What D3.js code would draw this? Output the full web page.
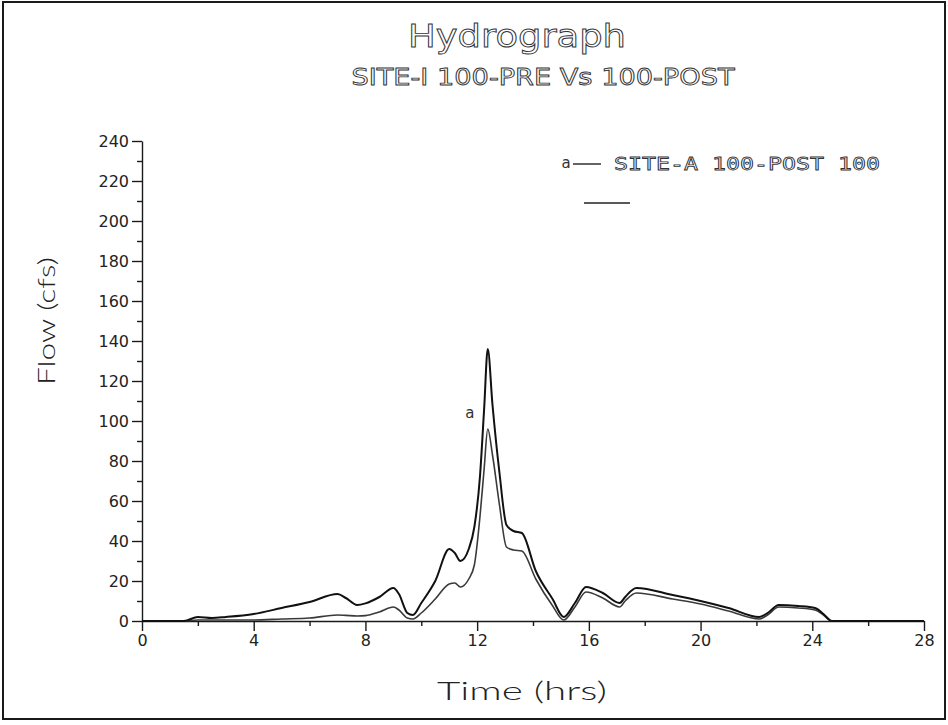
<!DOCTYPE html>
<html>
<head>
<meta charset="utf-8">
<script src="https://cdn.jsdelivr.net/npm/d3@7"></script>
<style>
  html, body { margin: 0; padding: 0; background: #fff; }
  svg { display: block; }
</style>
</head>
<body>
<svg id="chart" width="948" height="725"></svg>
<script>
// ---- data ----
const chartTitle = "Hydrograph";
const chartSubtitle = "SITE-I 100-PRE Vs 100-POST";
const xTitle = "Time (hrs)";
const yTitle = "Flow (cfs)";
const xTicks = [0, 4, 8, 12, 16, 20, 24, 28];
const yTicks = [0, 20, 40, 60, 80, 100, 120, 140, 160, 180, 200, 220, 240];
const seriesNames = ["SITE-A 100-POST 100", ""];

const times = [0, 1.5, 2, 2.5, 3, 4, 5, 6, 7, 7.3, 7.7, 8, 8.5, 9, 9.2, 9.5, 9.7, 10, 10.5, 11,
  11.2, 11.4, 11.7, 11.9, 12.1, 12.25, 12.38, 12.55, 12.8, 13.05, 13.3, 13.6, 14.1, 14.7, 15.1,
  15.5, 15.9, 16.5, 17.1, 17.3, 17.7, 19, 20, 21, 22.1, 22.4, 22.8, 23.5, 24.1, 24.4, 24.7, 28];

const flowUpper = [0, 0, 2, 1.5, 2, 3.5, 6.5, 9.5, 13.5, 11.5, 8, 8.8, 12, 16.5, 13.5, 4, 3, 9, 20, 36,
  34, 30, 36, 47, 72, 106, 136, 108, 74, 48, 45, 44, 25, 11, 2,
  9, 17, 14, 9, 12, 16.5, 13, 10, 6.5, 2, 4, 8, 7.5, 6.5, 3.5, 0, 0];

const flowLower = [0, 0, 0.5, 0.5, 0.5, 0.5, 1, 1.5, 3, 2.8, 2.5, 2.7, 4.5, 7, 5.5, 1.5, 1, 4, 11, 18.5,
  19, 17, 21, 28, 52, 76, 96, 83, 58, 37, 35.5, 35, 21, 7.6, 0.5,
  7, 14.5, 11.5, 7, 10, 14, 11, 8.5, 5, 1, 3, 7, 6.5, 5.5, 3, 0, 0];

const markerPoints = [[11.74, 104]];

// ---- drawing ----
const svg = d3.select("#chart");
const W = 948, H = 725;
const mLeft = 142, mRight = 924, mTop = 141, mBottom = 621;

const x = d3.scaleLinear().domain([0, 28]).range([mLeft, mRight]);
const y = d3.scaleLinear().domain([0, 240]).range([mBottom, mTop]);

const ink = "#1a1a1a";
const tickFont = "'DejaVu Sans', sans-serif";

// frame
svg.append("rect").attr("x", 3).attr("y", 2).attr("width", W - 6).attr("height", H - 8)
  .attr("fill", "none").attr("stroke", ink).attr("stroke-width", 2);

// titles
svg.append("text").attr("x", 517).attr("y", 47).attr("text-anchor", "middle")
  .attr("font-family", "'DejaVu Sans', sans-serif").attr("font-size", 32)
  .attr("textLength", 218).attr("lengthAdjust", "spacingAndGlyphs")
  .attr("fill", "#fff").attr("stroke", "#333").attr("stroke-width", 0.9)
  .text(chartTitle);

svg.append("text").attr("x", 543).attr("y", 85).attr("text-anchor", "middle")
  .attr("font-family", "'DejaVu Sans', sans-serif").attr("font-size", 23)
  .attr("textLength", 383).attr("lengthAdjust", "spacingAndGlyphs")
  .attr("fill", "#fff").attr("stroke", "#333").attr("stroke-width", 0.9)
  .text(chartSubtitle);

// axes
const yAxis = d3.axisLeft(y).tickValues(yTicks).tickSize(10).tickSizeOuter(0).tickPadding(3)
  .tickFormat(d3.format("d"));
const gy = svg.append("g").attr("transform", `translate(${mLeft},0)`).call(yAxis);

const yMinor = d3.axisLeft(y).tickValues(d3.range(10, 240, 20)).tickSize(5).tickSizeOuter(0).tickFormat("");
svg.append("g").attr("transform", `translate(${mLeft},0)`).call(yMinor).select(".domain").remove();

const xAxis = d3.axisBottom(x).tickValues(xTicks).tickSize(10).tickSizeOuter(0).tickPadding(4)
  .tickFormat(d3.format("d"));
const gx = svg.append("g").attr("transform", `translate(0,${mBottom})`).call(xAxis);

const xMinor = d3.axisBottom(x).tickValues(d3.range(2, 28, 4)).tickSize(5).tickSizeOuter(0).tickFormat("");
svg.append("g").attr("transform", `translate(0,${mBottom})`).call(xMinor).select(".domain").remove();

svg.selectAll(".domain, .tick line").attr("stroke", ink).attr("stroke-width", 1.4);
[gx, gy].forEach(g => g.selectAll("text")
  .attr("font-family", tickFont).attr("font-size", 16).attr("fill", "#222"));

// axis titles
svg.append("text").attr("x", 522).attr("y", 700).attr("text-anchor", "middle")
  .attr("font-family", "Lato, 'DejaVu Sans', sans-serif").attr("font-weight", 300)
  .attr("font-size", 26).attr("textLength", 170).attr("lengthAdjust", "spacingAndGlyphs")
  .attr("fill", "#222").text(xTitle);

svg.append("text").attr("transform", "translate(55,321) rotate(-90)").attr("text-anchor", "middle")
  .attr("font-family", "Lato, 'DejaVu Sans', sans-serif").attr("font-weight", 300)
  .attr("font-size", 24).attr("textLength", 128).attr("lengthAdjust", "spacingAndGlyphs")
  .attr("fill", "#222").text(yTitle);

// series lines
const line = d3.line().x(d => x(d[0])).y(d => y(d[1])).curve(d3.curveMonotoneX);
const upperData = times.map((t, i) => [t, flowUpper[i]]);
const lowerData = times.map((t, i) => [t, flowLower[i]]);

svg.append("path").datum(lowerData).attr("d", line)
  .attr("fill", "none").attr("stroke", "#3a3a3a").attr("stroke-width", 1.6);
svg.append("path").datum(upperData).attr("d", line)
  .attr("fill", "none").attr("stroke", "#111").attr("stroke-width", 2);

// series marker
svg.selectAll(".marker").data(markerPoints).enter().append("text")
  .attr("class", "marker").attr("x", d => x(d[0])).attr("y", d => y(d[1]) + 5)
  .attr("text-anchor", "middle").attr("font-family", tickFont).attr("font-size", 15)
  .attr("fill", "#333").text("a");

// legend
const lg = svg.append("g");
lg.append("text").attr("x", 566).attr("y", 168).attr("text-anchor", "middle")
  .attr("font-family", tickFont).attr("font-size", 15).attr("fill", "#333").text("a");
lg.append("line").attr("x1", 573).attr("x2", 601).attr("y1", 164).attr("y2", 164)
  .attr("stroke", "#222").attr("stroke-width", 1.4);
lg.append("text").attr("x", 614).attr("y", 170)
  .attr("font-family", "'DejaVu Sans Mono', monospace").attr("font-size", 17)
  .attr("textLength", 266).attr("lengthAdjust", "spacingAndGlyphs")
  .attr("fill", "#fff").attr("stroke", "#333").attr("stroke-width", 0.8)
  .text(seriesNames[0]);
lg.append("line").attr("x1", 584).attr("x2", 630).attr("y1", 203).attr("y2", 203)
  .attr("stroke", "#222").attr("stroke-width", 1.6);
lg.append("text").attr("x", 640).attr("y", 208).attr("font-family", tickFont)
  .attr("font-size", 17).attr("fill", "#333").text(seriesNames[1]);
</script>
</body>
</html>
